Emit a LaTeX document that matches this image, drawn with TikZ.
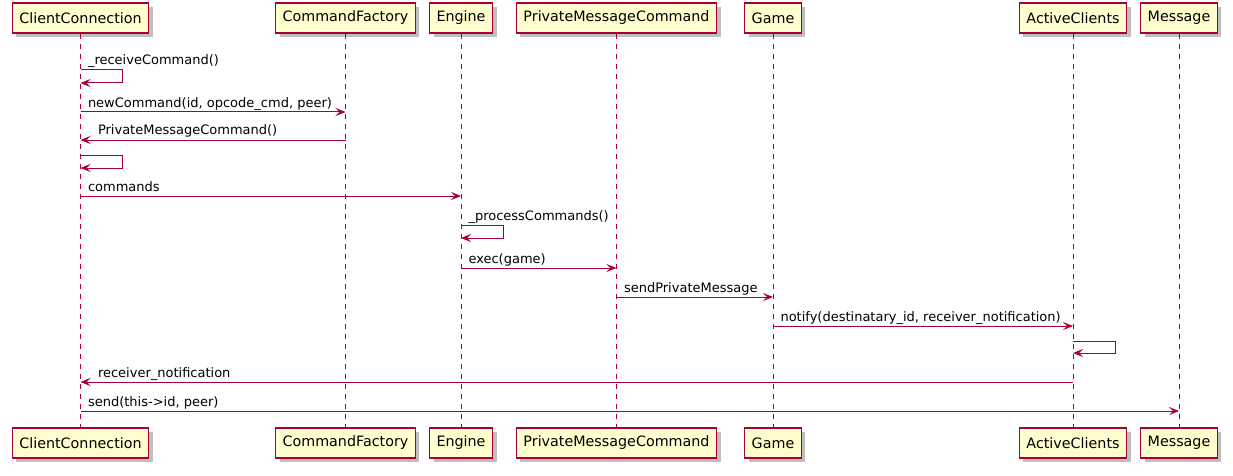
\documentclass[tikz,border=0pt]{standalone}
\usepackage{fontspec}
\setmainfont{DejaVu Sans}
\usetikzlibrary{arrows.meta,shadows}
\definecolor{umlred}{HTML}{A80036}
\definecolor{umlfill}{HTML}{FEFECE}
\tikzset{
  part/.style={draw=umlred, fill=umlfill, line width=1.2pt, inner xsep=7pt,
    minimum height=30pt, font=\fontsize{14.3}{17}\selectfont,
    drop shadow={shadow xshift=4pt, shadow yshift=-4pt, fill=black, opacity=0.25}},
  life/.style={umlred, line width=1pt, dash pattern=on 5pt off 5pt},
  msg/.style={umlred, line width=1pt, -{Stealth[length=10pt, width=8pt, inset=4pt]}},
  lbl/.style={font=\fontsize{13}{15}\selectfont, text=black, anchor=base west, inner sep=0pt},
}
\begin{document}
\begin{tikzpicture}[x=1pt, y=-1pt]
    \useasboundingbox (0,0) rectangle (1233,476);
    % participants, top and bottom
    \node[part] (cc) at (80.5,18) {ClientConnection};
    \node[part] (cf) at (345.5,18) {CommandFactory};
    \node[part] (en) at (461,18) {Engine};
    \node[part] (pmc) at (616.5,18) {PrivateMessageCommand};
    \node[part] (gm) at (773,18) {Game};
    \node[part] (ac) at (1073,18) {ActiveClients};
    \node[part] (ms) at (1179,18) {Message};
    \node[part] (ccB) at (80.5,443) {ClientConnection};
    \node[part] (cfB) at (345.5,443) {CommandFactory};
    \node[part] (enB) at (461,443) {Engine};
    \node[part] (pmcB) at (616.5,443) {PrivateMessageCommand};
    \node[part] (gmB) at (773,443) {Game};
    \node[part] (acB) at (1073,443) {ActiveClients};
    \node[part] (msB) at (1179,443) {Message};
    % lifelines
    \draw[life] (cc.south) -- (ccB.north);
    \draw[life] (cf.south) -- (cfB.north);
    \draw[life] (en.south) -- (enB.north);
    \draw[life] (pmc.south) -- (pmcB.north);
    \draw[life] (gm.south) -- (gmB.north);
    \draw[life] (ac.south) -- (acB.north);
    \draw[life] (ms.south) -- (msB.north);
    % messages
    \draw[msg] (cc |- 0,70) -- node[lbl, pos=0, xshift=7pt, yshift=5pt] {\_receiveCommand()} ++(42,0) -- ++(0,13) -- (cc |- 0,83);
    \draw[msg] (cc |- 0,112) -- node[lbl, pos=0, xshift=7pt, yshift=5pt] {newCommand(id, opcode\_cmd, peer)} (cf |- 0,112);
    \draw[msg] (cf |- 0,140) -- node[lbl, pos=1, xshift=17pt, yshift=5pt] {PrivateMessageCommand()} (cc |- 0,140);
    \draw[msg] (cc |- 0,155) -- ++(42,0) -- ++(0,13) -- (cc |- 0,168);
    \draw[msg] (cc |- 0,196) -- node[lbl, pos=0, xshift=7pt, yshift=5pt] {commands} (en |- 0,196);
    \draw[msg] (en |- 0,225) -- node[lbl, pos=0, xshift=7pt, yshift=5pt] {\_processCommands()} ++(42,0) -- ++(0,13) -- (en |- 0,238);
    \draw[msg] (en |- 0,268) -- node[lbl, pos=0, xshift=7pt, yshift=5pt] {exec(game)} (pmc |- 0,268);
    \draw[msg] (pmc |- 0,297) -- node[lbl, pos=0, xshift=7pt, yshift=5pt] {sendPrivateMessage} (gm |- 0,297);
    \draw[msg] (gm |- 0,326) -- node[lbl, pos=0, xshift=7pt, yshift=5pt] {notify(destinatary\_id, receiver\_notification)} (ac |- 0,326);
    \draw[msg] (ac |- 0,341) -- ++(42,0) -- ++(0,12) -- (ac |- 0,353);
    \draw[msg] (ac |- 0,382) -- node[lbl, pos=1, xshift=17pt, yshift=5pt] {receiver\_notification} (cc |- 0,382);
    \draw[msg] (cc |- 0,411) -- node[lbl, pos=0, xshift=7pt, yshift=5pt] {send(this->id, peer)} (ms |- 0,411);
\end{tikzpicture}
\end{document}
